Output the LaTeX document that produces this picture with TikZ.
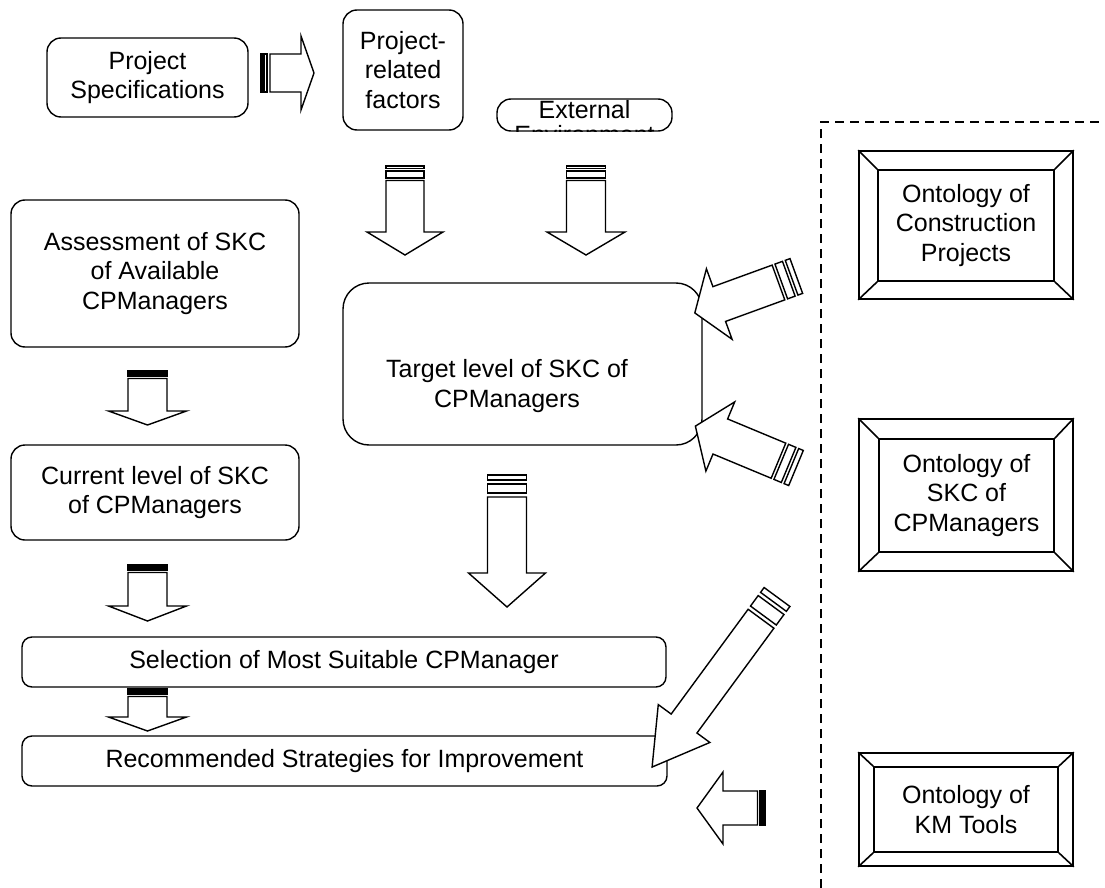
\documentclass[tikz,border=0pt]{standalone}
\usepackage{fontspec}
\setmainfont{Liberation Sans}
\pgfkeys{/sa/.cd,
  len/.store in=\saL, sw/.store in=\saW, hw/.store in=\saH, hl/.store in=\saHL,
  s1/.store in=\saA, s2/.store in=\saB, s3/.store in=\saC, s4/.store in=\saD}
\newcommand{\sarrow}[3]{%
  \begin{scope}[shift={#1}, rotate=#2]
    \pgfkeys{/sa/.cd,#3}
    \draw[arrowline] (0,-\saW) rectangle (\saA,\saW);
    \draw[arrowline] (\saB,-\saW) rectangle (\saC,\saW);
    \draw[arrowline] (\saD,-\saW) -- ({\saL-\saHL},-\saW) -- ({\saL-\saHL},-\saH)
      -- (\saL,0) -- ({\saL-\saHL},\saH) -- ({\saL-\saHL},\saW) -- (\saD,\saW) -- cycle;
  \end{scope}}
\begin{document}
\begin{tikzpicture}[x=1pt,y=-1pt, line width=1.4pt,
  arrowline/.style={draw, line width=1.4pt, line join=miter, fill=white},
  txt/.style={align=center, font=\fontsize{25}{29.5}\selectfont, inner sep=0pt},
  rbox/.style={draw, rounded corners=14pt, inner sep=0pt},
  frame/.style={draw, line width=1.6pt, inner sep=0pt},
  sep/.style={draw, line width=2pt, dash pattern=on 9pt off 6pt}]
\useasboundingbox (0,0) rectangle (1105,888);

% rounded boxes
\node[rbox, txt, minimum width=201pt, minimum height=79pt] (spec) at (147.5,77.5) {Project\\Specifications};
\node[rbox, txt, minimum width=120pt, minimum height=120pt] (prf) at (403,70) {Project-\\related\\factors};
\node[rbox, minimum width=175pt, minimum height=32pt] (ext) at (584.5,115) {};
\node[txt, anchor=base] (exttext) at (584.5,119) {External};
\begin{scope}
  \clip (497,95) rectangle (672,131.5);
  \node[txt, anchor=base] (exttext2) at (584.5,143) {Environment};
\end{scope}
\node[rbox, txt, minimum width=288pt, minimum height=147pt] (assess) at (155,273.5) {Assessment of SKC\\of Available\\CPManagers};
\node[draw, rounded corners=26pt, minimum width=359pt, minimum height=162pt] (target) at (522.5,364) {};
\node[txt] (targettext) at (507,386) {Target level of SKC of\\CPManagers};
\node[rbox, txt, minimum width=288pt, minimum height=95pt] (current) at (155,492.5) {Current level of SKC\\of CPManagers};
\node[rbox, rounded corners=10pt, txt, minimum width=644pt, minimum height=50pt] (select) at (344,662) {Selection of Most Suitable CPManager};
\node[rbox, rounded corners=10pt, txt, minimum width=645pt, minimum height=50pt] (recom) at (344.5,761) {Recommended Strategies for Improvement};

% separator
\draw[sep] (821,888) -- (821,122) -- (1105,122);

% framed ontology boxes
\node[frame, minimum width=214pt, minimum height=148pt] (oc) at (966,225) {};
\node[frame, txt, minimum width=176pt, minimum height=111pt] (oci) at (966,225.5) {Ontology of\\Construction\\Projects};
\node[frame, minimum width=214pt, minimum height=152pt] (os) at (966,495) {};
\node[frame, txt, minimum width=175pt, minimum height=113pt] (osi) at (966.5,495.5) {Ontology of\\SKC of\\CPManagers};
\node[frame, minimum width=214pt, minimum height=113pt] (ok) at (966,809.5) {};
\node[frame, txt, minimum width=184pt, minimum height=85pt] (oki) at (966,809.5) {Ontology of\\KM Tools};
\foreach \o/\i in {oc/oci, os/osi, ok/oki}{
  \draw[line width=1.6pt] (\o.north west) -- (\i.north west);
  \draw[line width=1.6pt] (\o.north east) -- (\i.north east);
  \draw[line width=1.6pt] (\o.south west) -- (\i.south west);
  \draw[line width=1.6pt] (\o.south east) -- (\i.south east);
}

% striped block arrows
\sarrow{(261,73)}{0}{len=53, sw=19, hw=37, hl=13, s1=2, s2=3.5, s3=6, s4=9}
\sarrow{(405,166)}{-90}{len=89, sw=19, hw=38, hl=23, s1=2.5, s2=5, s3=12, s4=14.5}
\sarrow{(586,166)}{-90}{len=89, sw=19.5, hw=39, hl=23, s1=2.5, s2=5, s3=12, s4=14.5}
\sarrow{(507,475)}{-90}{len=132, sw=19.5, hw=38.5, hl=34, s1=5, s2=9, s3=18, s4=22}
\sarrow{(147.5,371)}{-90}{len=54, sw=19.5, hw=39, hl=14, s1=1.5, s2=3, s3=5, s4=7.5}
\sarrow{(147.5,565)}{-90}{len=56, sw=19.5, hw=39, hl=15, s1=1.5, s2=3, s3=5, s4=7.5}
\sarrow{(147.5,689)}{-90}{len=42, sw=19.5, hw=39, hl=14, s1=1.5, s2=3, s3=5, s4=7.5}
\sarrow{(796.3,276)}{200}{len=108, sw=18.5, hw=37.5, hl=26, s1=5, s2=8, s3=16, s4=19}
\sarrow{(796,468)}{157.4}{len=109, sw=19, hw=37.5, hl=27, s1=5, s2=8, s3=16, s4=19}
\sarrow{(777,597)}{233.7}{len=211, sw=16, hw=32, hl=54, s1=6, s2=10, s3=23, s4=27}
\sarrow{(765,808)}{180}{len=68, sw=17, hw=36, hl=26, s1=1.5, s2=3, s3=5, s4=7.5}
\end{tikzpicture}
\end{document}
